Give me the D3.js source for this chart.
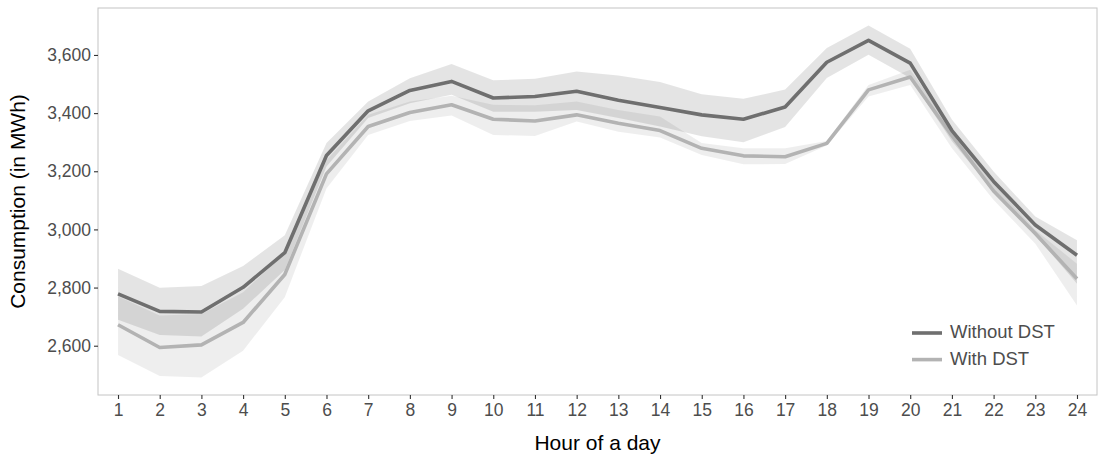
<!DOCTYPE html>
<html>
<head>
<meta charset="utf-8">
<script src="https://cdn.jsdelivr.net/npm/d3@7"></script>
<style>
  body { margin: 0; background: #fff; }
  svg { display: block; font-family: "Liberation Sans", Arial, sans-serif; }
</style>
</head>
<body>
<svg id="chart" width="1106" height="456"></svg>
<script>
// hours on x axis
const hours = d3.range(1, 25);

// mean consumption (MWh) per hour
const withoutDST = [2778, 2718, 2716, 2801, 2920, 3254, 3408, 3478, 3509, 3452, 3457, 3475,
                    3444, 3419, 3394, 3379, 3421, 3575, 3650, 3572, 3340, 3165, 3015, 2911];
const withDST    = [2672, 2594, 2603, 2680, 2845, 3191, 3354, 3402, 3429, 3379, 3373, 3394,
                    3365, 3340, 3279, 3253, 3250, 3296, 3480, 3524, 3322, 3132, 2986, 2830];

// confidence band bounds
const withoutLow  = [2689, 2637, 2632, 2727, 2860, 3216, 3383, 3434, 3463, 3405, 3405, 3411,
                     3383, 3354, 3320, 3300, 3352, 3521, 3601, 3521, 3303, 3130, 2981, 2813];
const withoutHigh = [2865, 2799, 2805, 2874, 2980, 3297, 3440, 3520, 3569, 3513, 3518, 3543,
                     3529, 3507, 3465, 3449, 3481, 3624, 3701, 3621, 3378, 3199, 3044, 2963];
const withLow     = [2568, 2496, 2491, 2583, 2767, 3141, 3325, 3373, 3392, 3325, 3321, 3371,
                     3336, 3316, 3256, 3224, 3225, 3289, 3457, 3497, 3279, 3101, 2951, 2738];
const withHigh    = [2770, 2704, 2709, 2784, 2920, 3239, 3394, 3440, 3460, 3429, 3427, 3440,
                     3411, 3388, 3297, 3279, 3279, 3304, 3497, 3549, 3345, 3160, 2998, 2882];

const yTicks = [2600, 2800, 3000, 3200, 3400, 3600];
const seriesNames = ["Without DST", "With DST"];

const margin = { top: 8, right: 9, bottom: 61, left: 98 };
const width = 1106, height = 456;

const series = [
  { name: seriesNames[0], mean: withoutDST, lo: withoutLow, hi: withoutHigh, line: "#6f6f6f", band: 0.105 },
  { name: seriesNames[1], mean: withDST, lo: withLow, hi: withHigh, line: "#b3b3b3", band: 0.068 }
];

const svg = d3.select("#chart");

const x = d3.scaleLinear()
  .domain([1 - 0.48, 24 + 0.48])
  .range([margin.left, width - margin.right]);

const allVals = withoutLow.concat(withoutHigh, withLow, withHigh);
const [ymin, ymax] = d3.extent(allVals);
const pad = (ymax - ymin) * 0.05;
const y = d3.scaleLinear()
  .domain([ymin - pad, ymax + pad])
  .range([height - margin.bottom, margin.top]);

// ribbons
const area = d3.area()
  .x((d, i) => x(hours[i]))
  .y0(d => y(d[0]))
  .y1(d => y(d[1]));

series.forEach(s => {
  svg.append("path")
    .datum(s.lo.map((v, i) => [v, s.hi[i]]))
    .attr("fill", "#000")
    .attr("fill-opacity", s.band)
    .attr("d", area);
});

// lines (light first so dark sits on top)
const line = d3.line()
  .x((d, i) => x(hours[i]))
  .y(d => y(d));

[series[1], series[0]].forEach(s => {
  svg.append("path")
    .datum(s.mean)
    .attr("fill", "none")
    .attr("stroke", s.line)
    .attr("stroke-width", 3.6)
    .attr("stroke-linejoin", "round")
    .attr("d", line);
});

// panel border
svg.append("rect")
  .attr("x", margin.left)
  .attr("y", margin.top)
  .attr("width", width - margin.left - margin.right)
  .attr("height", height - margin.top - margin.bottom)
  .attr("fill", "none")
  .attr("stroke", "#c4c4c4")
  .attr("stroke-width", 1);

// axes
const xAxis = svg.append("g")
  .attr("transform", `translate(0,${height - margin.bottom})`)
  .call(d3.axisBottom(x).tickValues(hours).tickFormat(d3.format("d")).tickSize(4).tickPadding(5));
const yAxis = svg.append("g")
  .attr("transform", `translate(${margin.left},0)`)
  .call(d3.axisLeft(y).tickValues(yTicks).tickFormat(d3.format(",")).tickSize(4).tickPadding(3));

[xAxis, yAxis].forEach(g => {
  g.select(".domain").remove();
  g.selectAll(".tick line").attr("stroke", "#333").attr("stroke-width", 1.1);
  g.selectAll(".tick text")
    .attr("fill", "#4d4d4d")
    .attr("font-size", 17.5)
    .attr("font-family", "Liberation Sans, Arial, sans-serif");
});

// axis titles
svg.append("text")
  .attr("x", x(12.5))
  .attr("y", 450)
  .attr("text-anchor", "middle")
  .attr("font-size", 21)
  .attr("fill", "#000")
  .text("Hour of a day");

svg.append("text")
  .attr("transform", `translate(25,${(margin.top + height - margin.bottom) / 2}) rotate(-90)`)
  .attr("text-anchor", "middle")
  .attr("font-size", 21)
  .attr("fill", "#000")
  .text("Consumption (in MWh)");

// legend
const legend = svg.append("g").attr("transform", "translate(912,333)");
series.forEach((s, i) => {
  const g = legend.append("g").attr("transform", `translate(0,${i * 26.6})`);
  g.append("line")
    .attr("x1", 0).attr("x2", 30)
    .attr("stroke", s.line)
    .attr("stroke-width", 3.6);
  g.append("text")
    .attr("x", 38)
    .attr("y", -1)
    .attr("dy", "0.35em")
    .attr("font-size", 18.5)
    .attr("fill", "#4d4d4d")
    .text(s.name);
});
</script>
</body>
</html>
